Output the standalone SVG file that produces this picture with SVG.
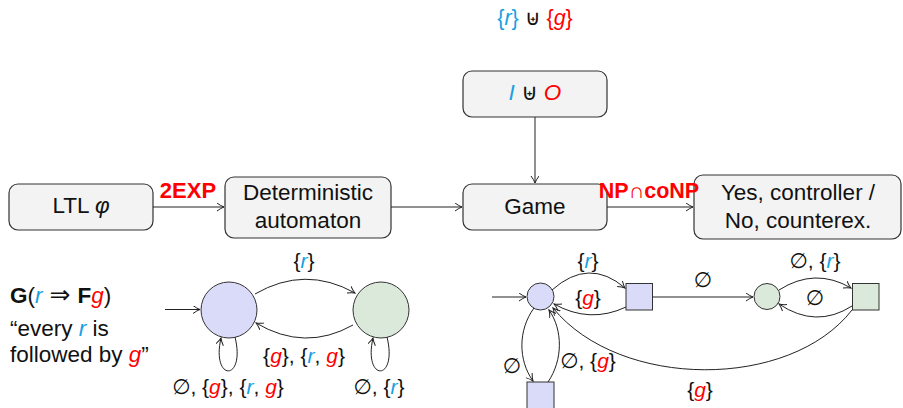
<svg xmlns="http://www.w3.org/2000/svg" width="903" height="408" viewBox="0 0 903 408">
<style>
text{font-family:"Liberation Sans","DejaVu Sans",sans-serif;fill:#111}
.bx{fill:#f3f3f3;stroke:#333;stroke-width:1.2}
.t{font-size:22.5px;text-anchor:middle}
.l{font-size:21px;text-anchor:middle}
.b{fill:#1a9fe3}
.r{fill:#f00}
.i{font-style:italic}
.e{fill:none;stroke:#222;stroke-width:1;marker-end:url(#ah)}
.cb{fill:#dadaf9;stroke:#333;stroke-width:1}
.cg{fill:#dae9da;stroke:#333;stroke-width:1}
.cx{font-size:22px;font-weight:bold;fill:#f00;text-anchor:middle}
.f{font-size:22.5px}
</style>
<defs>
<marker id="ah" markerWidth="10" markerHeight="10" refX="7" refY="4" orient="auto" markerUnits="userSpaceOnUse">
<path d="M0,0 Q4,3 7,4 Q4,5 0,8" fill="none" stroke="#222" stroke-width="1"/>
</marker>
</defs>
<text class="t" x="535" y="25" style="font-size:21.5px"><tspan class="b">{</tspan><tspan class="b i">r</tspan><tspan class="b">}</tspan> ⊎ <tspan class="r">{</tspan><tspan class="r i">g</tspan><tspan class="r">}</tspan></text>
<g id="ltl"><rect class="bx" x="9" y="184" width="144" height="46" rx="9"/><text class="t" x="81" y="213">LTL <tspan class="i">φ</tspan></text></g>
<g id="det"><rect class="bx" x="225" y="177" width="166" height="61" rx="9"/><text class="t" x="308" y="200">Deterministic</text><text class="t" x="308" y="228">automaton</text></g>
<g id="io"><rect class="bx" x="463" y="71" width="144" height="46" rx="9"/><text class="t" x="535" y="100"><tspan class="b i">I</tspan> ⊎ <tspan class="r i">O</tspan></text></g>
<g id="game"><rect class="bx" x="463" y="184" width="144" height="46" rx="9"/><text class="t" x="535" y="214">Game</text></g>
<g id="yes"><rect class="bx" x="694" y="175" width="207" height="64" rx="9"/><text class="t" x="798" y="200">Yes, controller /</text><text class="t" x="798" y="228">No, counterex.</text></g>
<g id="formula">
<text class="f" x="10" y="303"><tspan font-weight="bold">G</tspan>(<tspan class="b i">r</tspan><tspan dx="7" style="font-family:'DejaVu Sans',sans-serif;font-size:25px">⇒</tspan><tspan dx="7" font-weight="bold">F</tspan><tspan class="r i">g</tspan>)</text>
<text class="f" x="10" y="336">“every <tspan class="b i">r</tspan> is</text>
<text class="f" x="10" y="362">followed by <tspan class="r i">g</tspan>”</text>
</g>
<g id="q0"><circle class="cb" cx="229" cy="310" r="28"/></g>
<g id="q1"><circle class="cg" cx="381" cy="310" r="28"/></g>
<g id="gA"><circle class="cb" cx="540.5" cy="296.5" r="13.5"/></g>
<g id="gB"><rect class="cb" x="626" y="283.5" width="26.5" height="26.5"/></g>
<g id="gC"><circle class="cg" cx="767" cy="296.5" r="13"/></g>
<g id="gD"><rect class="cg" x="852.5" y="283.5" width="26.5" height="26.5"/></g>
<g id="gE"><rect class="cb" x="527" y="382" width="27" height="30"/></g>
<g id="connectors">
<path class="e" d="M153,207 L224,207"/>
<path class="e" d="M391,207 L462,207"/>
<path class="e" d="M607,207 L693,207"/>
<path class="e" d="M535,117 L535,183"/>
<path class="e" d="M165,309.5 L200,309.5"/>
<path class="e" d="M255,294 Q305,265 355,293"/>
<path class="e" d="M353,325 Q305,352 256,323"/>
<path class="e" d="M235,337 C246,382 211,382 221,338"/>
<path class="e" d="M387,337 C398,382 363,382 373,338"/>
<path class="e" d="M492,297 L526,297"/>
<path class="e" d="M552,290 Q589,257 625,288"/>
<path class="e" d="M626,307 Q590,324 554,304"/>
<path class="e" d="M652.5,297 L753,297"/>
<path class="e" d="M779,290 Q815,267 851,288"/>
<path class="e" d="M852,306 Q816,329 779,304"/>
<path class="e" d="M534,308 C518,330 518,360 533,381"/>
<path class="e" d="M548,382 C563,360 563,330 549,310"/>
<path class="e" d="M852,310 C790,390 620,390 553,308"/>
</g>
<g id="labels">
<text class="cx" x="188" y="198">2EXP</text>
<text class="cx" x="649" y="198" style="font-size:21.5px">NP∩coNP</text>
<text class="l" x="304" y="268">{<tspan class="b i">r</tspan>}</text>
<text class="l" x="304" y="363">{<tspan class="r i">g</tspan>}, {<tspan class="b i">r</tspan>, <tspan class="r i">g</tspan>}</text>
<text class="l" x="228" y="394">∅, {<tspan class="r i">g</tspan>}, {<tspan class="b i">r</tspan>, <tspan class="r i">g</tspan>}</text>
<text class="l" x="379" y="394">∅, {<tspan class="b i">r</tspan>}</text>
<text class="l" x="588" y="268">{<tspan class="b i">r</tspan>}</text>
<text class="l" x="588" y="305">{<tspan class="r i">g</tspan>}</text>
<text class="l" x="703" y="287">∅</text>
<text class="l" x="815" y="268">∅, {<tspan class="b i">r</tspan>}</text>
<text class="l" x="815" y="305">∅</text>
<text class="l" x="512" y="373">∅</text>
<text class="l" x="588" y="368">∅, {<tspan class="r i">g</tspan>}</text>
<text class="l" x="700" y="397">{<tspan class="r i">g</tspan>}</text>
</g>
</svg>
